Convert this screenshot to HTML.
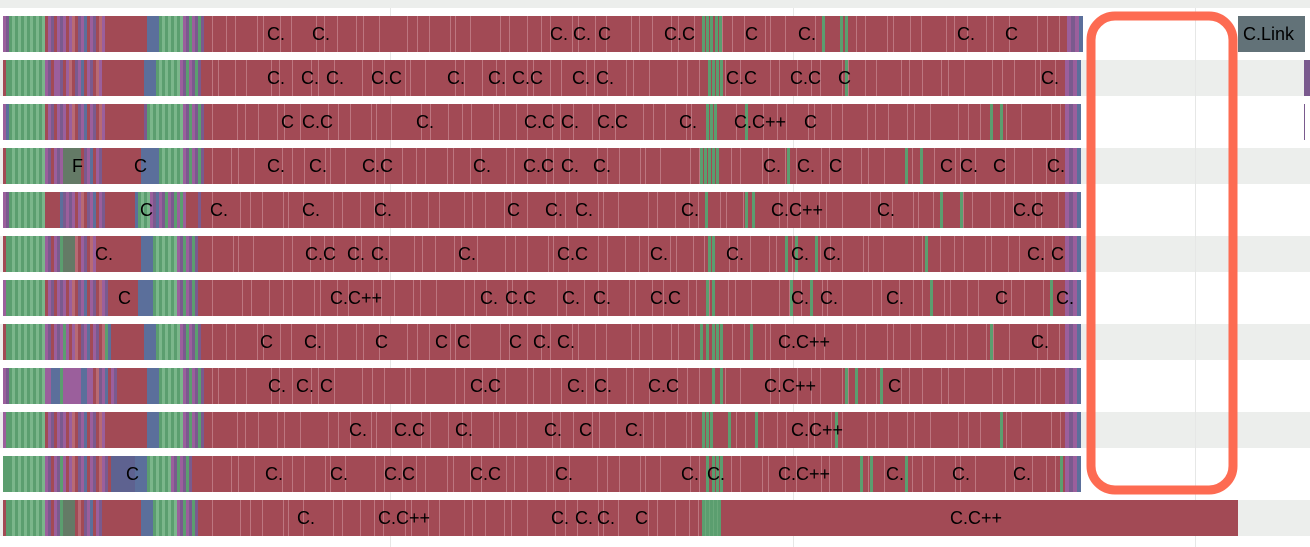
<!DOCTYPE html>
<html><head><meta charset="utf-8">
<style>
html,body{margin:0;padding:0;background:#fff;}
svg{display:block;font-family:"Liberation Sans",sans-serif;}
</style></head>
<body>
<svg id="chart" width="1310" height="547" xmlns="http://www.w3.org/2000/svg">
<g id="bg"></g><g id="grid"></g><g id="bars"></g><g id="labels"></g><g id="overlay"></g>
</svg>
<script>
// ---- data ----
const rowEnds=[1082,1080,1080,1080,1080,1080,1080,1080,1080,1080,1080,1238];
const rowLabels=[
 [["C.",267],["C.",312],["C.",550],["C.",573],["C",598],["C.C",664],["C",745],["C.",798],["C.",957],["C",1005]],
 [["C.",267],["C.",301],["C.",326],["C.C",371],["C.",447],["C.",488],["C.C",512],["C.",572],["C.",596],["C.C",726],["C.C",790],["C",838],["C.",1041]],
 [["C",281],["C.C",302],["C.",416],["C.C",524],["C.",561],["C.C",597],["C.",679],["C.C++",734],["C",804]],
 [["F",72],["C",134],["C.",267],["C.",309],["C.C",362],["C.",473],["C.C",523],["C.",561],["C.",593],["C.",763],["C.",797],["C",829],["C",940],["C.",960],["C",993],["C.",1047]],
 [["C",140],["C.",210],["C.",302],["C.",374],["C",507],["C.",545],["C.",575],["C.",681],["C.C++",771],["C.",877],["C.C",1013]],
 [["C.",95],["C.C",305],["C.",347],["C.",371],["C.",458],["C.C",557],["C.",650],["C.",726],["C.",791],["C.",823],["C.",1027],["C",1051]],
 [["C",118],["C.C++",330],["C.",480],["C.C",505],["C.",562],["C.",593],["C.C",650],["C.",791],["C.",820],["C.",886],["C",995],["C.",1056]],
 [["C",260],["C.",304],["C",375],["C",435],["C",457],["C",509],["C.",533],["C.",557],["C.C++",778],["C.",1031]],
 [["C.",268],["C.",296],["C",320],["C.C",470],["C.",567],["C.",594],["C.C",648],["C.C++",764],["C",888]],
 [["C.",349],["C.C",394],["C.",455],["C.",544],["C",579],["C.",625],["C.C++",791]],
 [["C",126],["C.",265],["C.",330],["C.C",384],["C.C",470],["C.",555],["C.",681],["C.",707],["C.C++",778],["C.",886],["C.",952],["C.",1013]],
 [["C.",297],["C.C++",378],["C.",551],["C.",575],["C.",597],["C",635],["C.C++",950]]
];
const leftPatterns=[
 "pmgGgGgGgGgGgGrpmrpmprplrmpbrpmrlprrrrrrrrrrrrrrbbbbgGgGgGgGpmgpmgm",
 "rggGgGgGgGgGgGpmrppmrplrmpbrpmrlprrrrrrrrrrrrrrbbbbgGgGgGgGpmgpmgm",
 "pbgGgGgGgGgGgGrpmrpmprplrmpbrpmrlprrrrrrrrrrrrrmgGgGgGgGgGgGpmgpmgm",
 "rggGgGgGgGgGgGpmrpmpddddddrmpbrpmrrrrrrrrrrrrrbbbbbbgGgGgGgGpmgpmgm",
 "pmgGgGgGgGgGgGrrrrrbmpmprplrmpbrpmrrrrrrrrrrbgGgGpmbpmgpmgpgprrrrm",
 "rggGgGgGgGgGgGpmrpmgddddlrpmrlprrrrrrrrrrrrrrrbbbbgGgGgGgGpmgpmgm",
 "pggGgGgGgGgGgGrpmrpmprplrmpbrpmrlpmrrrrrrrrrrbbbbbgGgGgGgGpmgpmgm",
 "rggGgGgGgGgGgGpmrpmpgprplrmpbrpmrlgbrrrrrrrrrrrbbbbgGgGgGgGpmgpmgm",
 "pmgGgGgGgGgGgGppbbbgppppppbbpprlmpbrpmrrrrrrrrrrbbbbgGgGgGgGpmgpmgm",
 "pggGgGgGgGgGgGrpmrpmprplrmpbrpmrlprrrrrrrrrrrrrrbbbbgGgGgGgGpmgpmgm",
 "gggGgGgGgGgGgGpmrpmgprplrmpbrpmrlpmrBBBBBBBBbbbbgGgGgGgGpmgpmgmrrr",
 "rggGgGgGgGgGgGpmrpmgddddrlrmpbrpmrrrrrrrrrrrrrbbbbgGgGgGgGpmgpmgm"
];
const greenStreaks=[
 [702,706,710,715,719,822,840,845],[708,712,716,720,845],[706,710,714,745,990,1000],
 [700,704,708,712,716,787,905,920],[705,745,752,940,960],[708,712,785,795,815,925],
 [706,712,790,810,930,1050],[700,706,712,716,720,750,990],[712,720,845,855,880],
 [702,706,710,728,755,835,1000],[706,712,716,720,860,870,905,1060],[702,706,710,714,718]
];
const lineGaps=[14,9,22,6,17,11,25,8,13,19,7,16,28,10,12,21,5,15,30,9,18];
// ---- drawing ----
const NS="http://www.w3.org/2000/svg";
const colors={p:"#9b5f9c",m:"#7a5a8e",g:"#5b9e6f",G:"#7bb68b",b:"#5b6f9b",r:"#a24a55",l:"#b86a74",d:"#647a66",B:"#5e6290"};
const rowY=i=>16+44*i, rowH=36;
function mk(tag,attrs,parent){const e=document.createElementNS(NS,tag);for(const k in attrs)e.setAttribute(k,attrs[k]);parent.appendChild(e);return e;}
const bgG=document.getElementById('bg'),gridG=document.getElementById('grid'),barsG=document.getElementById('bars'),labelsG=document.getElementById('labels'),ovG=document.getElementById('overlay');
const topStrip=mk('rect',{x:0,y:0,width:1310,height:8,fill:"#eceeec"},bgG);


for(let i=0;i<12;i++){if(i%2===1){const s=mk('rect',{x:0,y:rowY(i),width:1310,height:rowH,fill:"#eceeec"},bgG);
 
 }}
[390,793,1195].forEach(x=>{const l=mk('line',{x1:x+.5,x2:x+.5,y1:8,y2:547,stroke:"#e6e7e6","stroke-width":1},gridG);
 
 });
for(let i=0;i<12;i++){
 const y=rowY(i),end=rowEnds[i];
 const g=mk('g',{},barsG);
 
 
 const base=mk('rect',{x:3,y:y,width:end-3,height:rowH,fill:colors.r},g);
 
 
 const pat=leftPatterns[i];
 for(let k=0;k<pat.length;k++){if(pat[k]==='r')continue;
  const c=mk('rect',{x:3+k*3,y:y,width:3,height:rowH,fill:colors[pat[k]]},g);
  
  }
 let x=212,j=i*3;const lim=(i===11)?720:end-16;
 while(x<lim){mk('rect',{x:x,y:y,width:1,height:rowH,fill:"#bd7680"},g);x+=lineGaps[j%lineGaps.length];j++;}
 if(i===11){mk('rect',{x:704,y:y,width:14,height:rowH,fill:"#6aa87a"},g);}
 greenStreaks[i].forEach(gx=>{const s=mk('rect',{x:gx,y:y,width:3,height:rowH,fill:colors.g},g);
  
  });
 if(i<11){["p","m","p","b"].forEach((c,k)=>mk('rect',{x:end-15+k*4,y:y,width:4,height:rowH,fill:colors[c]},g));}
 rowLabels[i].forEach(([t,lx])=>{const tx=mk('text',{x:lx,y:y+24,"font-size":18,fill:"#000"},labelsG);tx.textContent=t;
  
  });
}
const link=mk('rect',{x:1238,y:16,width:67,height:36,fill:"#627278"},barsG);


const lt=mk('text',{x:1243,y:40,"font-size":18,fill:"#000"},labelsG);lt.textContent="C.Link";


mk('rect',{x:1304,y:60,width:6,height:36,fill:"#7a5a8e"},barsG);
mk('rect',{x:1304,y:104,width:1,height:36,fill:"#7a5a8e"},barsG);
const hl=mk('rect',{x:1091,y:16,width:142,height:474,rx:24,ry:24,fill:"none",stroke:"#fd6b52","stroke-width":9},ovG);


</script>
</body></html>
